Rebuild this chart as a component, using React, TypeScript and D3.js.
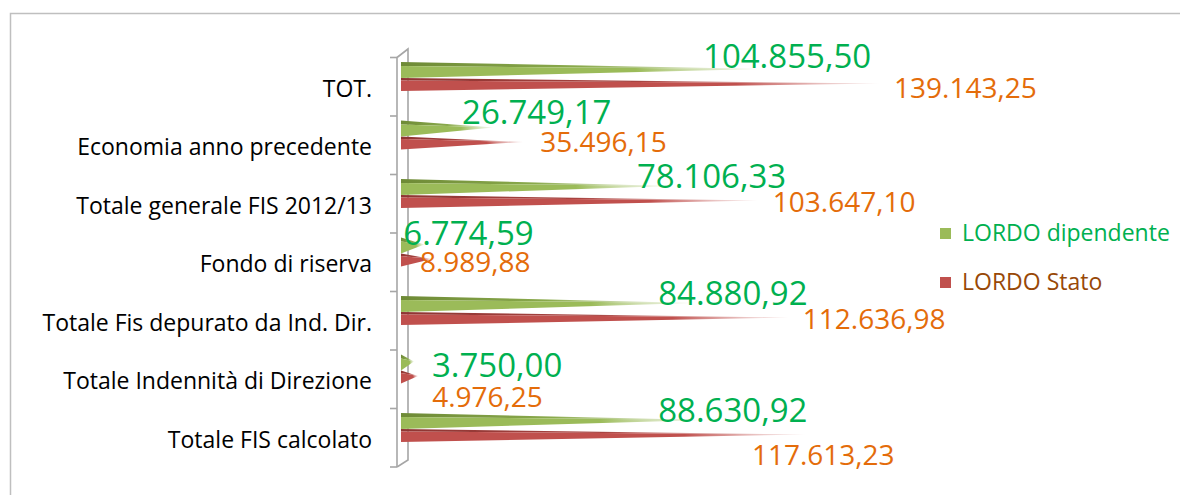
import React from "react";
import * as d3 from "d3";

const categories = [
  "TOT.",
  "Economia anno precedente",
  "Totale generale FIS 2012/13",
  "Fondo di riserva",
  "Totale Fis depurato da Ind. Dir.",
  "Totale Indennità di Direzione",
  "Totale FIS calcolato",
];
const lordoDipendente = [104855.5, 26749.17, 78106.33, 6774.59, 84880.92, 3750.0, 88630.92];
const lordoStato = [139143.25, 35496.15, 103647.1, 8989.88, 112636.98, 4976.25, 117613.23];
const seriesNames = ["LORDO dipendente", "LORDO Stato"];

// label nudges (manually placed labels in the original), relative to cone tip
const greenNudge: [number, number][] = [[-59, -1], [-31, -3.5], [-33, 2], [-21, 0], [-35, 2], [18, 15.5], [-48, 2]];
const redNudge: [number, number][] = [[14, 14.5], [17, 10], [15, 11.5], [-12, 13], [14, 11.5], [14, 31], [-54, 30.5]];

const fmt = (v: number) => {
  const s = v.toFixed(2).split(".");
  return s[0].replace(/\B(?=(\d{3})+(?!\d))/g, ".") + "," + s[1];
};

const FONT = "'Open Sans', sans-serif";

export default function App() {
  const W = 1180, H = 495;
  const x0 = 401;
  const x = d3.scaleLinear().domain([0, 160000]).range([x0, x0 + 160000 * 0.003443]);
  const y = d3.scaleBand<string>().domain(categories).range([57.5, 467]).paddingInner(0).paddingOuter(0);
  const step = y.step();
  const ticks = d3.range(categories.length + 1).map((i) => 57.5 + i * step);

  const cone = (b: number, v: number, kind: "g" | "r") => {
    const tip = x(v);
    if (kind === "g") {
      const top = b + 4.5, front = b + 8.5, bot = b + 20.5, ay = b + 11.5;
      return { tip, ay, topFace: `M${x0},${top}L${x0},${front}L${tip},${ay}Z`, frontFace: `M${x0},${front}L${x0},${bot}L${tip},${ay}Z` };
    }
    const top = b + 20.5, front = b + 23, bot = b + 33.5, ay = b + 26;
    return { tip, ay, topFace: `M${x0},${top}L${x0},${front}L${tip},${ay}Z`, frontFace: `M${x0},${front}L${x0},${bot}L${tip},${ay}Z` };
  };

  return (
    <svg width={W} height={H} style={{ position: "absolute", left: 0, top: 0, background: "#fff" }} fontFamily={FONT}>
      <defs>
        <linearGradient id="gFront" x1="0" x2="1" y1="0" y2="0">
          <stop offset="0" stopColor="#9BBB59" />
          <stop offset="0.65" stopColor="#9BBB59" />
          <stop offset="1" stopColor="#D7E4BD" stopOpacity="0.3" />
        </linearGradient>
        <linearGradient id="gTop" x1="0" x2="1" y1="0" y2="0">
          <stop offset="0" stopColor="#6E8A36" />
          <stop offset="0.5" stopColor="#8AAA4C" />
          <stop offset="1" stopColor="#C3D69B" stopOpacity="0.3" />
        </linearGradient>
        <linearGradient id="rFront" x1="0" x2="1" y1="0" y2="0">
          <stop offset="0" stopColor="#C0504D" />
          <stop offset="0.7" stopColor="#C0504D" />
          <stop offset="1" stopColor="#E6B9B8" stopOpacity="0.3" />
        </linearGradient>
        <linearGradient id="rTop" x1="0" x2="1" y1="0" y2="0">
          <stop offset="0" stopColor="#8E3532" />
          <stop offset="0.5" stopColor="#A84441" />
          <stop offset="1" stopColor="#D99694" stopOpacity="0.3" />
        </linearGradient>
      </defs>

      {/* outer border */}
      <rect x={10.5} y={13.5} width={1200} height={520} fill="none" stroke="#BFBFBF" strokeWidth={1.5} />

      {/* 3D axis wall */}
      <g stroke="#A6A6A6" strokeWidth={1.6} fill="none">
        <line x1={397} y1={ticks[0]} x2={397} y2={ticks[ticks.length - 1]} />
        <path d={`M397,${ticks[0]}L408,${ticks[0] - 8.5}L408,${ticks[ticks.length - 1] - 7}L397,${ticks[ticks.length - 1]}`} />
        {ticks.map((t, i) => (
          <line key={i} x1={390} x2={397} y1={t} y2={t} />
        ))}
      </g>

      {/* cones */}
      {categories.map((c, i) => {
        const b = y(c)!;
        const g = cone(b, lordoDipendente[i], "g");
        const r = cone(b, lordoStato[i], "r");
        return (
          <g key={c}>
            <path d={r.topFace} fill="url(#rTop)" />
            <path d={r.frontFace} fill="url(#rFront)" />
            <path d={g.topFace} fill="url(#gTop)" />
            <path d={g.frontFace} fill="url(#gFront)" />
          </g>
        );
      })}

      {/* category labels */}
      {categories.map((c) => (
        <text key={c} x={372} y={y(c)! + step / 2 + 4} textAnchor="end" dominantBaseline="middle" fontSize={23} fill="#000">
          {c}
        </text>
      ))}

      {/* value labels */}
      {categories.map((c, i) => {
        const b = y(c)!;
        const g = cone(b, lordoDipendente[i], "g");
        const r = cone(b, lordoStato[i], "r");
        return (
          <g key={"l" + c}>
            <text x={g.tip + greenNudge[i][0]} y={g.ay + greenNudge[i][1]} fontSize={33} fill="#00B050">
              {fmt(lordoDipendente[i])}
            </text>
            <text x={r.tip + redNudge[i][0]} y={r.ay + redNudge[i][1]} fontSize={28} fill="#E46C0A">
              {fmt(lordoStato[i])}
            </text>
          </g>
        );
      })}

      {/* legend */}
      <g fontSize={23}>
        <rect x={940} y={228} width={11} height={11} fill="#9BBB59" />
        <text x={962} y={241} fill="#00B050">{seriesNames[0]}</text>
        <rect x={940} y={277} width={11} height={11} fill="#C0504D" />
        <text x={962} y={290} fill="#984807">{seriesNames[1]}</text>
      </g>
    </svg>
  );
}
